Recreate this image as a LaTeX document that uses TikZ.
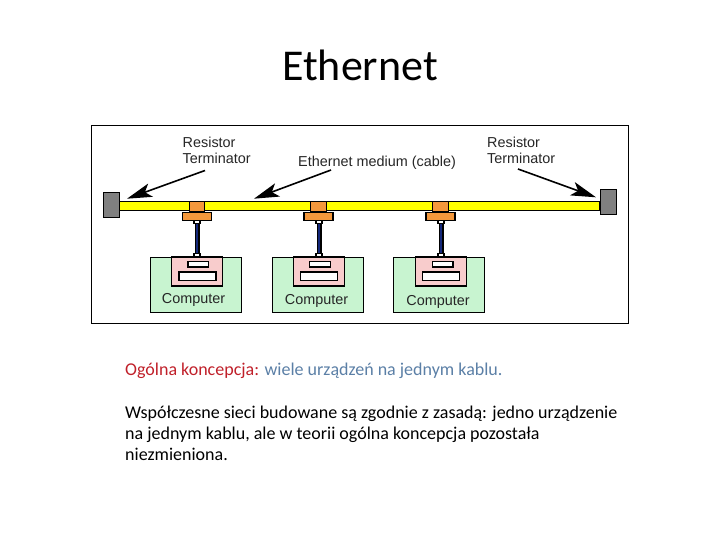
\documentclass[tikz,border=0pt]{standalone}
\usepackage{fontspec}
\setmainfont{Carlito}
\newfontfamily\diagfont{Liberation Sans}
\usetikzlibrary{arrows.meta}
\definecolor{cableY}{HTML}{FFFF00}
\definecolor{tapO}{HTML}{F4983C}
\definecolor{termG}{HTML}{808080}
\definecolor{compG}{HTML}{C8F4D0}
\definecolor{compP}{HTML}{F8CCCC}
\definecolor{stemB}{HTML}{14287A}
\definecolor{headR}{HTML}{C0202A}
\definecolor{headB}{HTML}{5B7FA6}
\tikzset{
  x=1pt,y=-1pt,
  boxbase/.style={draw=black,inner sep=0pt,outer sep=0pt},
  frameBox/.style={boxbase,line width=0.8pt,fill=white,minimum width=537pt,minimum height=198pt},
  termBox/.style={boxbase,line width=0.6pt,fill=termG,minimum width=16pt,minimum height=25pt},
  cableBox/.style={boxbase,line width=1pt,fill=cableY,minimum width=480pt,minimum height=8.5pt},
  tapTop/.style={boxbase,line width=1.2pt,fill=tapO,minimum width=15.5pt,minimum height=10.5pt},
  tapBot/.style={boxbase,line width=1.3pt,fill=tapO,minimum width=29pt,minimum height=8pt},
  compBox/.style={boxbase,line width=0.7pt,fill=compG,minimum width=91.5pt,minimum height=55pt},
  pinkBox/.style={boxbase,line width=1.3pt,fill=compP,minimum width=50.5pt,minimum height=29pt},
  slotS/.style={boxbase,line width=1.2pt,fill=white,minimum width=20.5pt,minimum height=5.5pt},
  slotL/.style={boxbase,line width=1.2pt,fill=white,minimum width=37pt,minimum height=8.5pt},
  plugBox/.style={boxbase,line width=1.2pt,fill=white,minimum width=6pt,minimum height=3.5pt},
  stemLine/.style={line width=5pt,draw=black},
  stemCore/.style={line width=2.6pt,draw=stemB},
  label/.style={font=\diagfont\fontsize{14.4}{16}\selectfont,inner sep=0pt,text=black!85},
  ptr/.style={draw=black,line width=1.6pt,-{Stealth[length=25pt,width=14pt,inset=6pt]}},
  textline/.style={font=\fontsize{18}{21}\selectfont,anchor=base west,inner sep=0pt},
}
\begin{document}
\begin{tikzpicture}
\useasboundingbox (0,0) rectangle (720,540);
\node[font=\fontsize{44}{52}\selectfont,inner sep=0pt,anchor=base] (title) at (360,81) {Ethernet};
\node[frameBox] (frame) at (360,224) {};

\node[cableBox] (cable) at (359,206) {};
\node[termBox] (termL) at (111.5,204.5) {};
\node[termBox] (termR) at (608,201.7) {};

\foreach \n/\tx/\cx/\px/\sx/\lx/\stx in {1/197/196/197/198.2/197.5/197,
                                          2/318.5/318/319/320/319.2/319,
                                          3/440.5/439/441/442.7/440.8/441}{
  \node[compBox] (comp\n) at (\cx,284.5) {};
  \node[pinkBox] (pink\n) at (\px,271.5) {};
  \node[slotS] (slotS\n) at (\sx,264.2) {};
  \node[slotL] (slotL\n) at (\lx,276.2) {};
  \node[tapTop] (tapT\n) at (\tx,206.8) {};
  \node[tapBot] (tapB\n) at (\tx,216.2) {};
  \node[plugBox] (plugT\n) at (\stx,222) {};
  \node[plugBox] (plugB\n) at (\stx,255) {};
  \draw[stemLine] (plugT\n.south) -- (plugB\n.north);
  \draw[stemCore] (plugT\n.south) -- (plugB\n.north);
}
\node[label,anchor=center] (c1) at (193.5,300) {Computer};
\node[label,anchor=center] (c2) at (316.5,301) {Computer};
\node[label,anchor=center] (c3) at (438,302) {Computer};

\node[label,anchor=west] (r1a) at (182.5,142) {Resistor};
\node[label,anchor=west] (r1b) at (182.5,158.5) {Terminator};
\node[label,anchor=center] (eth) at (377,163) {Ethernet medium (cable)};
\node[label,anchor=west] (r2a) at (487,142) {Resistor};
\node[label,anchor=west] (r2b) at (487,158.5) {Terminator};

\coordinate (a1s) at (205,170.5);
\coordinate (a1e) at (127,198.7);
\coordinate (a2s) at (331,170);
\coordinate (a2e) at (254,198.7);
\coordinate (a3s) at (518,169);
\coordinate (a3e) at (596,197.3);
\draw[ptr] (a1s) -- (a1e);
\draw[ptr] (a2s) -- (a2e);
\draw[ptr] (a3s) -- (a3e);

\node[textline] (t1) at (125,375) {\textcolor{headR}{Ogólna koncepcja:} \textcolor{headB}{wiele urządzeń na jednym kablu.}};
\node[textline] (t2) at (125,418.5) {Współczesne sieci budowane są zgodnie z zasadą: jedno urządzenie};
\node[textline] (t3) at (125,439.5) {na jednym kablu, ale w teorii ogólna koncepcja pozostała};
\node[textline] (t4) at (125,460.5) {niezmieniona.};
\end{tikzpicture}
\end{document}
